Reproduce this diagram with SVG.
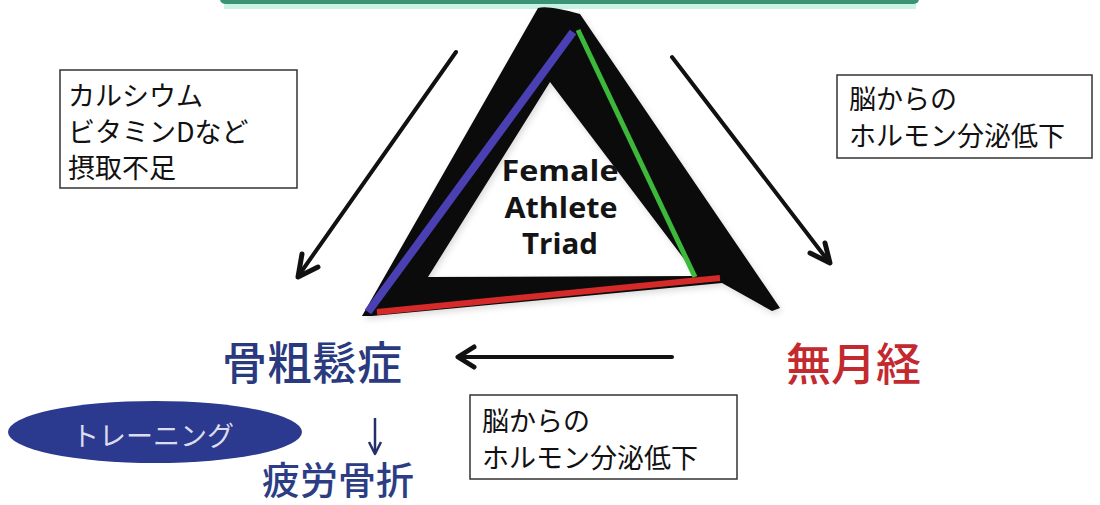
<svg xmlns="http://www.w3.org/2000/svg" width="1100" height="505" viewBox="0 0 1100 505">
  <style>
    .jp { font-family: "Noto Sans CJK JP", "Noto Sans", sans-serif; }
    .box { fill: #ffffff; stroke: #333333; stroke-width: 1.5; }
    .boxtext { font-size: 27px; fill: #111111; }
    .big { font-size: 45px; font-weight: 500; }
    .tri { font-family: "Open Sans", "Liberation Sans", sans-serif; font-weight: bold; font-size: 29px; fill: #141414; text-anchor: middle; }
    .conn { stroke: #111111; stroke-width: 4; fill: none; stroke-linecap: round; }
    .head { stroke: #111111; stroke-width: 5; fill: none; stroke-linecap: round; stroke-linejoin: round; }
  </style>
  <defs>
    <filter id="soft" x="-10%" y="-10%" width="120%" height="120%">
      <feGaussianBlur stdDeviation="3"/>
    </filter>
    <path id="frame" fill-rule="evenodd"
          d="M538,8 Q548,5 580,14 L780,308 L772,311 L722,283 L372,316 L362,316 Z
             M550,82 L697,276 L428,277 Z"/>
  </defs>

  <rect width="1100" height="505" fill="#ffffff"/>

  <!-- top banner edge -->
  <g id="banner">
    <rect x="220" y="-14" width="699" height="18" rx="5" fill="#3a9474"/>
    <rect x="224" y="4" width="692" height="5" fill="#c9f3e6"/>
  </g>

  <!-- triad emblem -->
  <g id="triad">
    <use href="#frame" transform="translate(2,3)" fill="#9a9a9a" opacity="0.35" filter="url(#soft)"/>
    <use href="#frame" fill="#0b0b0b"/>
    <line x1="578" y1="30" x2="695" y2="277" stroke="#3cb83a" stroke-width="5"/>
    <line x1="573" y1="32" x2="368" y2="312" stroke="#4a40b4" stroke-width="8"/>
    <line x1="377" y1="312" x2="720" y2="278" stroke="#d62a2a" stroke-width="6"/>
    <text class="tri" x="560" y="181" textLength="117" lengthAdjust="spacingAndGlyphs">Female</text>
    <text class="tri" x="561" y="218" textLength="113" lengthAdjust="spacingAndGlyphs">Athlete</text>
    <text class="tri" x="560" y="254" textLength="76" lengthAdjust="spacingAndGlyphs">Triad</text>
  </g>

  <!-- nutrition box -->
  <g id="nutrition">
    <rect class="box" x="60" y="70" width="237" height="118"/>
    <text class="jp boxtext" x="68" y="106">カルシウム</text>
    <text class="jp boxtext" x="68" y="142">ビタミンDなど</text>
    <text class="jp boxtext" x="68" y="178">摂取不足</text>
  </g>

  <!-- hormone box (right) -->
  <g id="hormone-right">
    <rect class="box" x="837" y="75" width="255" height="83"/>
    <text class="jp boxtext" x="849" y="109">脳からの</text>
    <text class="jp boxtext" x="849" y="146">ホルモン分泌低下</text>
  </g>

  <!-- hormone box (bottom) -->
  <g id="hormone-bottom">
    <rect class="box" x="470" y="395" width="267" height="84"/>
    <text class="jp boxtext" x="482" y="431">脳からの</text>
    <text class="jp boxtext" x="482" y="468">ホルモン分泌低下</text>
  </g>

  <!-- osteoporosis -->
  <g id="osteoporosis">
    <text class="jp big" x="222" y="380" fill="#2a3a7e">骨粗鬆症</text>
  </g>

  <!-- amenorrhea -->
  <g id="amenorrhea">
    <text class="jp big" x="786" y="381" fill="#c22a30">無月経</text>
  </g>

  <!-- training -->
  <g id="training">
    <ellipse cx="155" cy="432" rx="147" ry="31" fill="#2b3a8e"/>
    <text class="jp" x="72" y="446" font-size="27" fill="#dcdcee">トレーニング</text>
  </g>

  <!-- stress fracture -->
  <g id="fracture">
    <text class="jp" x="262" y="494" font-size="38" font-weight="500" fill="#2c3d85">疲労骨折</text>
  </g>

  <!-- connectors -->
  <g id="connectors">
    <line class="conn" x1="456" y1="52" x2="299" y2="275"/>
    <polyline class="head" points="302,254 298,277 318,267"/>

    <line class="conn" x1="672" y1="57" x2="829" y2="262"/>
    <polyline class="head" points="825,243 830,263 810,253"/>

    <line class="conn" x1="672" y1="357" x2="460" y2="357"/>
    <polyline class="head" points="474,347 458,357 474,367"/>

    <line x1="375" y1="418" x2="375" y2="453" stroke="#25306a" stroke-width="2.5"/>
    <polyline points="369,442 375,454 381,442" fill="none" stroke="#25306a" stroke-width="2.5" stroke-linejoin="round"/>
  </g>
</svg>
